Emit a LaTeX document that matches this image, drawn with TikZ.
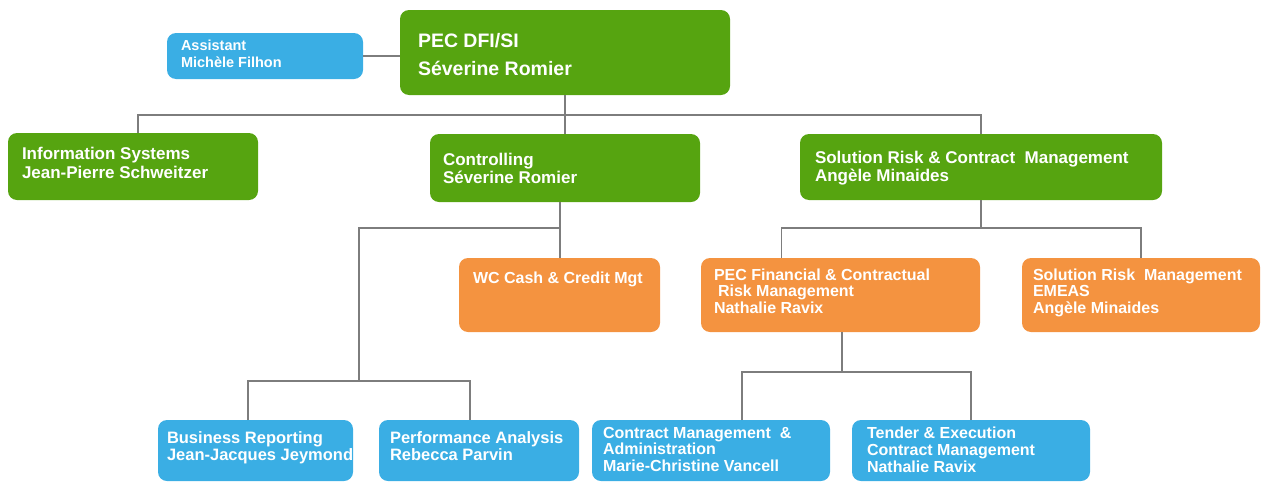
\documentclass[tikz,border=0pt]{standalone}
\usepackage{fontspec}
\setmainfont{Liberation Sans}
\definecolor{cgreen}{RGB}{86,164,16}
\definecolor{cblue}{RGB}{58,174,228}
\definecolor{corange}{RGB}{244,147,64}
\definecolor{cline}{RGB}{125,125,125}
\tikzset{
  box/.style={rectangle, rounded corners=9pt, inner sep=0pt, outer sep=0pt, anchor=north west},
  gbox/.style={box, fill=cgreen},
  bbox/.style={box, fill=cblue},
  obox/.style={box, fill=corange},
  conn/.style={draw=cline, line width=1.8pt},
  lbl/.style={anchor=base west, inner sep=0pt, outer sep=0pt, text=white, font=\bfseries},
}
% \ubox{name}{style}{x1}{y1}{x2}{y2}
\newcommand\ubox[6]{\node[#2, minimum width={#5-#3}, minimum height={#6-#4}] (#1) at (#3,#4) {};}
% \ulbl{name}{x}{y}{size}{skip}{text}
\newcommand\ulbl[6]{\node[lbl] (#1) at (#2,#3) {\parbox[t]{420pt}{\fontsize{#4}{#5}\selectfont\bfseries\raggedright #6}};}
\begin{document}
\begin{tikzpicture}[x=1pt,y=-1pt]
\useasboundingbox (0,0) rectangle (1263,482);
% boxes
\ubox{asst}{bbox}{167}{33}{363}{79}
\ubox{pec}{gbox}{400}{10}{730}{95}
\ubox{info}{gbox}{8}{133}{258}{200}
\ubox{ctrl}{gbox}{430}{134}{700}{202}
\ubox{srcm}{gbox}{800}{134}{1162}{200}
\ubox{wc}{obox}{459}{258}{660}{332}
\ubox{pecf}{obox}{701}{258}{980}{332}
\ubox{srm}{obox}{1022}{258}{1260}{332}
\ubox{br}{bbox}{158}{420}{353}{481}
\ubox{pa}{bbox}{379}{420}{579}{481}
\ubox{cm}{bbox}{592}{420}{830}{481}
\ubox{te}{bbox}{852}{420}{1090}{481}
% connectors
\coordinate (bus1) at (565,115);
\coordinate (bus2) at (560,228);
\coordinate (bus3) at (359,381);
\coordinate (bus4) at (981,228);
\coordinate (bus5) at (842,372);
\draw[conn] (asst.east) -- (asst.east -| pec.west);
\draw[conn] (pec.south) -- (ctrl.north);
\draw[conn] ([xshift=5pt]info.north) |- (bus1) -| (srcm.north);
\draw[conn] (ctrl.south -| bus2) -- (wc.north -| bus2);
\draw[conn] (bus2) -| (bus3);
\draw[conn] ([xshift=-7.5pt]br.north) |- (bus3) -| ([xshift=-9pt]pa.north);
\draw[conn] (srcm.south) -- (bus4);
\draw[conn] ([xshift=-59pt]pecf.north) |- (bus4) -| (srm.north);
\draw[conn] (pecf.south -| bus5) -- (bus5);
\draw[conn] ([xshift=31pt]cm.north) |- (bus5) -| (te.north);
% texts
\ulbl{asst-t}{181}{50}{14.5}{17}{Assistant\\Michèle Filhon}
\ulbl{pec-t}{418}{47}{19.5}{28}{PEC DFI/SI\\Séverine Romier}
\ulbl{info-t}{22}{159}{17}{19}{Information Systems\\Jean-Pierre Schweitzer}
\ulbl{ctrl-t}{443}{165}{17}{18}{Controlling\\Séverine Romier}
\ulbl{srcm-t}{815}{163}{17}{18}{Solution Risk \& Contract\ \ Management\\Angèle Minaides}
\ulbl{wc-t}{473}{283}{16}{17}{WC Cash \& Credit Mgt}
\ulbl{pecf-t}{714}{280}{16}{16.5}{PEC Financial \& Contractual\\\hspace*{4pt}Risk Management\\Nathalie Ravix}
\ulbl{srm-t}{1033}{280}{16}{16.5}{Solution Risk\ \ Management\\EMEAS\\Angèle Minaides}
\ulbl{br-t}{167}{443}{16.5}{17.5}{Business Reporting\\Jean-Jacques Jeymond}
\ulbl{pa-t}{390}{443}{16.5}{17.5}{Performance Analysis\\Rebecca Parvin}
\ulbl{cm-t}{603}{438}{16}{16.5}{Contract Management\ \ \&\\Administration\\Marie-Christine Vancell}
\ulbl{te-t}{867}{438}{16}{17}{Tender \& Execution\\Contract Management\\Nathalie Ravix}
\end{tikzpicture}
\end{document}
